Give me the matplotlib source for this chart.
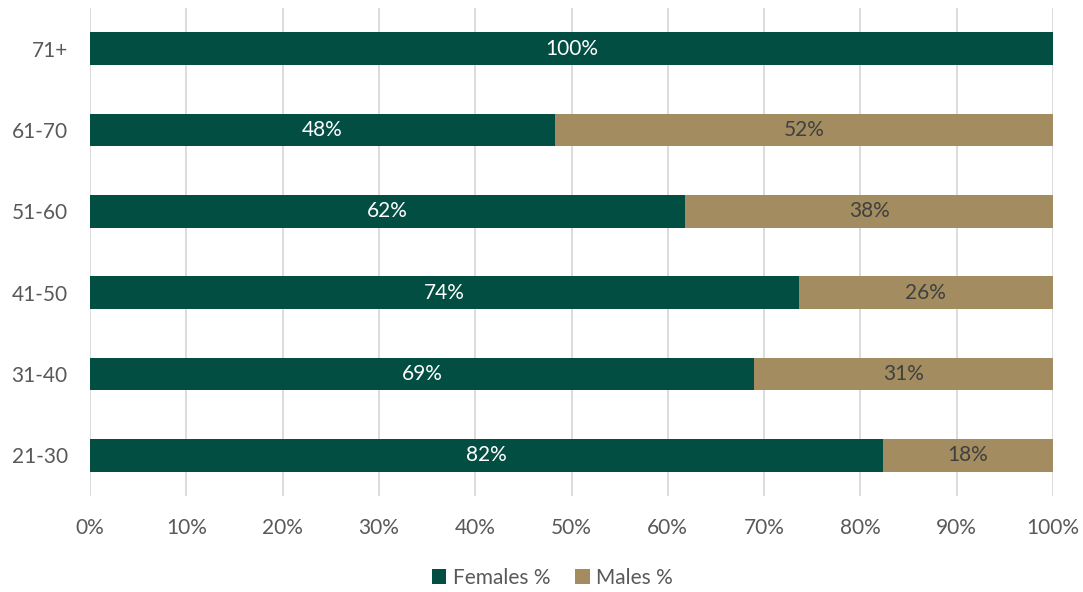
import matplotlib
matplotlib.use("Agg")
import matplotlib.pyplot as plt
import numpy as np

# Share of respondents by gender within each age band (percent)
age_groups = ["21-30", "31-40", "41-50", "51-60", "61-70", "71+"]
females_pct = [82.3, 69.0, 73.6, 61.8, 48.3, 100.0]
males_pct = [17.7, 31.0, 26.4, 38.2, 51.7, 0.0]
x_ticks = [0, 10, 20, 30, 40, 50, 60, 70, 80, 90, 100]

green = "#024E43"
tan = "#A38D60"
grid_col = "#D9D9D9"
text_col = "#595959"

plt.rcParams["font.family"] = ["Lato", "DejaVu Sans"]
fs = 15

fig = plt.figure(figsize=(10.83, 5.92), dpi=100)
ax = fig.add_axes([90 / 1083, 1 - 496 / 592, 963 / 1083, 488 / 592])

y = np.arange(len(age_groups))
h = 0.4
bf = ax.barh(y, females_pct, height=h, color=green, label="Females %", zorder=3)
bm = ax.barh(y, males_pct, left=females_pct, height=h, color=tan, label="Males %", zorder=3)

for i, (f, m) in enumerate(zip(females_pct, males_pct)):
    if f > 0:
        ax.text(f / 2, i, f"{f:.0f}%", ha="center", va="center",
                color="white", fontsize=fs, zorder=4)
    if m > 0:
        ax.text(f + m / 2, i, f"{m:.0f}%", ha="center", va="center",
                color="#404040", fontsize=fs, zorder=4)

ax.set_xlim(0, 100)
ax.set_ylim(-0.5, len(age_groups) - 0.5)
ax.set_xticks(x_ticks)
ax.set_xticklabels([f"{t}%" for t in x_ticks])
ax.set_yticks(y)
ax.set_yticklabels(age_groups)
ax.tick_params(axis="both", length=0, labelsize=fs, colors=text_col)
ax.tick_params(axis="x", pad=16)
ax.tick_params(axis="y", pad=16)
ax.xaxis.grid(True, color=grid_col, linewidth=1.3, zorder=0)
for s in ax.spines.values():
    s.set_visible(False)

fig.legend(handles=[bf, bm], loc="center", bbox_to_anchor=(0.51, 1 - 578 / 592),
           ncol=2, frameon=False, fontsize=fs, handlelength=0.7, handleheight=0.7,
           handletextpad=0.3, columnspacing=1.2, labelcolor=text_col)

fig.savefig("out.png", dpi=100)
